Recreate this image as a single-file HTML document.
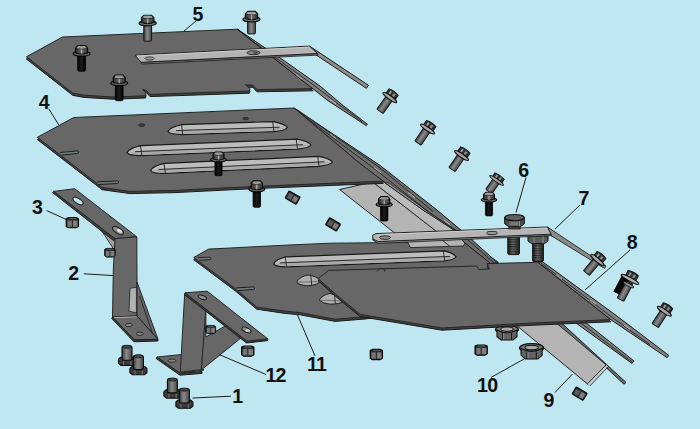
<!DOCTYPE html>
<html>
<head>
<meta charset="utf-8">
<title>Exploded view</title>
<style>
html,body{margin:0;padding:0;background:#bfe7f1;}
body{width:700px;height:429px;overflow:hidden;font-family:"Liberation Sans",sans-serif;}
svg{display:block;}
.lbl{font-family:"Liberation Sans",sans-serif;font-weight:bold;font-size:19.6px;fill:#111;stroke:none;text-anchor:middle;}
.ld{stroke:#1e1e1e;stroke-width:1;fill:none;}
.pl{fill:#676767;stroke:#262626;stroke-width:1;stroke-linejoin:round;}
.th{fill:#404040;stroke:#1a1a1a;stroke-width:1;stroke-linejoin:round;}
.lt{fill:#b4b4b4;stroke:#222;stroke-width:1;stroke-linejoin:round;}
.fl{fill:#8a8a8a;stroke:#222;stroke-width:0.9;stroke-linejoin:round;}
.fd{fill:#6e6e6e;stroke:#161616;stroke-width:1;stroke-linejoin:round;}
.fm{fill:#818181;stroke:#161616;stroke-width:1;stroke-linejoin:round;}
.ln{stroke:#222;stroke-width:0.9;fill:none;}
.wl{stroke:#d8d8d8;stroke-width:0.7;fill:none;}
</style>
</head>
<body>
<svg width="700" height="429" viewBox="0 0 700 429">
<defs>
  <linearGradient id="sh" x1="0" x2="1" y1="0" y2="0">
    <stop offset="0" stop-color="#3c3c3c"/><stop offset="0.45" stop-color="#8a8a8a"/><stop offset="1" stop-color="#444"/>
  </linearGradient>
  <linearGradient id="shk" x1="0" x2="1" y1="0" y2="0">
    <stop offset="0" stop-color="#000"/><stop offset="0.5" stop-color="#1c1c1c"/><stop offset="1" stop-color="#000"/>
  </linearGradient>
  <linearGradient id="hd" x1="0" x2="1" y1="0" y2="0">
    <stop offset="0" stop-color="#2a2a2a"/><stop offset="0.5" stop-color="#6c6c6c"/><stop offset="1" stop-color="#2e2e2e"/>
  </linearGradient>
  <!-- tilted grey flange bolt: origin at flange centre, shaft along +y -->
  <g id="bolt">
    <rect x="-3.8" y="0" width="7.6" height="17" rx="0.8" fill="url(#sh)" stroke="#161616" stroke-width="1"/>
    <path d="M-5.6 -1.5 L-5.6 -6.6 Q0 -8.4 5.6 -6.6 L5.6 -1.5Z" fill="#333" stroke="#0e0e0e" stroke-width="1"/>
    <rect x="-3.4" y="-6" width="1.8" height="3.6" fill="#a0a0a0"/><rect x="0.8" y="-6" width="2.2" height="3.6" fill="#8c8c8c"/>
    <ellipse cx="0" cy="0" rx="8.3" ry="1.9" fill="#a8a8a8" stroke="#0e0e0e" stroke-width="1.1"/>
  </g>
  <!-- upright grey bolt seen from above -->
  <g id="boltu">
    <rect x="-3.9" y="0" width="7.8" height="18" rx="1" fill="url(#sh)" stroke="#161616" stroke-width="1"/>
    <ellipse cx="0" cy="0" rx="8.6" ry="2.6" fill="#7c7c7c" stroke="#0e0e0e" stroke-width="1.2"/>
    <path d="M-6.2 -0.8 L-6.2 -5.6 L-3.8 -8 L3.8 -8 L6.2 -5.6 L6.2 -0.8 Q0 1.6 -6.2 -0.8Z" fill="url(#hd)" stroke="#0e0e0e" stroke-width="1.1"/>
    <path d="M-6.2 -5.6 Q0 -3.4 6.2 -5.6" class="ln"/>
    <path d="M-3.6 -7.4 L3.6 -7.4 L5.2 -5.6 Q0 -4 -5.2 -5.6Z" fill="#a0a0a0"/>
    <path d="M0 -4.2 L0 0.4" stroke="#bbb" stroke-width="0.8"/>
  </g>
  <g id="boltus">
    <rect x="-3.9" y="0" width="7.8" height="14.6" rx="1" fill="url(#sh)" stroke="#161616" stroke-width="1"/>
    <ellipse cx="0" cy="0" rx="8.6" ry="2.6" fill="#7c7c7c" stroke="#0e0e0e" stroke-width="1.2"/>
    <path d="M-6.2 -0.8 L-6.2 -5.6 L-3.8 -8 L3.8 -8 L6.2 -5.6 L6.2 -0.8 Q0 1.6 -6.2 -0.8Z" fill="url(#hd)" stroke="#0e0e0e" stroke-width="1.1"/>
    <path d="M-6.2 -5.6 Q0 -3.4 6.2 -5.6" class="ln"/>
    <path d="M-3.6 -7.4 L3.6 -7.4 L5.2 -5.6 Q0 -4 -5.2 -5.6Z" fill="#a0a0a0"/>
    <path d="M0 -4.2 L0 0.4" stroke="#bbb" stroke-width="0.8"/>
  </g>
  <!-- upright black bolt -->
  <g id="boltk">
    <rect x="-3.9" y="0" width="7.8" height="17.5" rx="1.4" fill="url(#shk)" stroke="#000" stroke-width="0.8"/>
    <ellipse cx="0" cy="0" rx="8.5" ry="2.5" fill="#6a6a6a" stroke="#060606" stroke-width="1.2"/>
    <path d="M-6 -0.8 L-6 -5.8 L-3.6 -8.2 L3.6 -8.2 L6 -5.8 L6 -0.8 Q0 1.4 -6 -0.8Z" fill="url(#hd)" stroke="#060606" stroke-width="1.1"/>
    <path d="M-6 -5.8 Q0 -3.6 6 -5.8" class="ln"/>
    <path d="M-3.4 -7.6 L3.4 -7.6 L5 -5.8 Q0 -4.2 -5 -5.8Z" fill="#9a9a9a"/>
    <path d="M0 -4.4 L0 0.2" stroke="#ccc" stroke-width="0.8"/>
  </g>
  <!-- small nut -->
  <g id="nut">
    <path d="M-6 -4.2 L-3.5 -5.2 L4 -5.2 L6.3 -4 L6.3 3.6 L4 5 L-4 5 L-6 3.6Z" fill="#2c2c2c" stroke="#0a0a0a" stroke-width="1.1"/>
    <rect x="-4.7" y="-2.2" width="4.3" height="6.2" fill="#767676"/>
    <rect x="0.8" y="-2.2" width="4.5" height="6.2" fill="#7e7e7e"/>
    <path d="M-3 -4.2 L3.6 -4.2" stroke="#666" stroke-width="1"/>
  </g>
  <g id="nutt">
    <rect x="-6.4" y="-4.1" width="12.8" height="8.2" rx="0.8" fill="#2a2a2a" stroke="#0a0a0a" stroke-width="1.1"/>
    <rect x="-5" y="-2.6" width="4.6" height="5.6" fill="#5c5c5c"/>
    <rect x="0.7" y="-2.6" width="4.6" height="5.6" fill="#7c7c7c"/>
  </g>
  <!-- item 1 bolt: cylinder up, hex head at bottom -->
  <g id="b1">
    <path d="M-8.5 3.4 L-6.4 1.4 L6.4 1.4 L8.5 3.4 L8.5 7.6 L6 9.6 L-6 9.6 L-8.5 7.6Z" fill="#3a3a3a" stroke="#0a0a0a" stroke-width="1.1"/>
    <path d="M-3.4 4.4 L-3.4 9.4 M3.8 4.4 L3.8 9.4" stroke="#7a7a7a" stroke-width="0.9"/>
    <rect x="-5" y="-10" width="10" height="14.4" rx="2" fill="url(#sh)" stroke="#0a0a0a" stroke-width="1.1"/>
    <ellipse cx="0" cy="-9" rx="4" ry="1.6" fill="#4a4a4a" stroke="#111" stroke-width="0.7"/>
  </g>
  <!-- flange nut (item 10) -->
  <g id="fnut">
    <ellipse cx="0" cy="0" rx="11.5" ry="4.2" fill="#7a7a7a" stroke="#0d0d0d" stroke-width="1.2"/>
    <path d="M-10 0.5 L-10 7 L-6 10.5 L6 10.5 L10 7 L10 0.5 Q0 6 -10 0.5Z" fill="#636363" stroke="#0d0d0d" stroke-width="1.1"/>
    <path d="M-4.5 3.4 L-4.5 10.5 M4.5 3.4 L4.5 10.5" stroke="#1c1c1c" stroke-width="1"/>
    <path d="M-3.4 3.8 L-3.4 10" stroke="#8a8a8a" stroke-width="0.9"/>
    <ellipse cx="0" cy="-0.4" rx="6.4" ry="2.2" fill="#a8a8a8" stroke="#111" stroke-width="1"/>
  </g>
  <linearGradient id="thr" x1="0" x2="1" y1="0" y2="0">
    <stop offset="0" stop-color="#1e1e1e"/><stop offset="0.45" stop-color="#6e6e6e"/><stop offset="1" stop-color="#262626"/>
  </linearGradient>
  <pattern id="thp" width="4" height="2.4" patternUnits="userSpaceOnUse"><rect width="4" height="1.1" fill="#111" opacity="0.65"/></pattern>
  <!-- big bolt shaft (item 6) origin top centre -->
  <g id="boltbig">
    <rect x="-5.8" y="0" width="11.6" height="18" rx="1.5" fill="url(#thr)" stroke="#111" stroke-width="1"/>
    <rect x="-5.8" y="1" width="11.6" height="16" fill="url(#thp)"/>
  </g>
  <g id="boltbig2">
    <rect x="-5.4" y="0" width="10.8" height="18.5" rx="1" fill="url(#thr)" stroke="#111" stroke-width="1"/>
    <rect x="-5.4" y="1" width="10.8" height="17" fill="url(#thp)"/>
    <path d="M-10 -7 L-10 -2 L-6.5 0.6 L6.5 0.6 L10 -2 L10 -7Z" fill="#5a5a5a" stroke="#111" stroke-width="1"/>
    <path d="M-4 -7 L-4 0.4 M5 -7 L5 0.4" stroke="#999" stroke-width="0.8"/>
  </g>
  <!-- hex head (item 6) origin bottom centre of head -->
  <g id="hexhead">
    <rect x="-5.6" y="0" width="11.2" height="3" fill="#4a4a4a" stroke="#111" stroke-width="0.8"/>
    <path d="M-9.8 -8.4 L-9.8 -2.2 L-6 0.6 L6 0.6 L9.8 -2.2 L9.8 -8.4Z" fill="#4c4c4c" stroke="#111" stroke-width="1"/>
    <path d="M-4.4 -5.6 L-4.4 0.4 M5 -5.6 L5 0.4" stroke="#8e8e8e" stroke-width="0.9"/>
    <rect x="-3.6" y="-4.8" width="7.6" height="4.6" fill="#777"/>
    <ellipse cx="0" cy="-8.4" rx="9.8" ry="3.1" fill="#5e5e5e" stroke="#111" stroke-width="1.1"/>
  </g>
  <!-- black tilted bolt -->
  <g id="boltkt">
    <rect x="-9" y="0" width="9.6" height="18.5" fill="#050505"/>
    <rect x="-2.6" y="3" width="7.4" height="19.4" rx="1" fill="url(#sh)" stroke="#0c0c0c" stroke-width="0.9"/>
    <ellipse cx="1.2" cy="5.6" rx="5.8" ry="1.4" fill="#9a9a9a" stroke="#0c0c0c" stroke-width="0.9"/>
    <path d="M-5.8 -1.6 L-5.8 -7 Q0 -8.8 5.8 -7 L5.8 -1.6Z" fill="#343434" stroke="#0c0c0c" stroke-width="1"/>
    <rect x="-3.4" y="-6.2" width="1.9" height="3.8" fill="#9c9c9c"/><rect x="1" y="-6.2" width="2.3" height="3.8" fill="#8a8a8a"/>
    <ellipse cx="0" cy="0" rx="9.9" ry="1.9" fill="#b0b0b0" stroke="#0c0c0c" stroke-width="1.1"/>
  </g>
</defs>

<rect x="0" y="0" width="700" height="429" fill="#bfe7f1"/>
<g id="plate5">
<polygon class="th" points="26.4,59.0 62.5,39.2 237.4,31.4 285.0,69.2 313.3,90.8 257.0,91.8 253.0,87.4 245.5,87.0 250.0,90.8 249.4,93.2 150.0,96.6 146.5,92.6 142.5,91.6 146.0,95.2 145.6,98.0 113.0,99.2 84.0,97.4 72.9,95.4"/>
<polygon class="pl" points="26.4,56.8 62.5,37.0 237.4,29.2 285.0,67.0 313.3,88.6 257.0,89.6 253.0,85.2 245.5,84.8 250.0,88.6 249.4,91.0 150.0,94.4 146.5,90.4 142.5,89.4 146.0,93.0 145.6,95.8 113.0,97.0 84.0,95.2 72.9,93.2" />
  <polygon class="fm" points="237.4,29.2 285,61.3 320,86 343,105.5 367.5,124.3 366.3,125.6 327,100 313.3,89 285,67"/>
  <path class="ln" d="M246 36.4 L285 64.6 L318 88.4 L340 105.4 L362 121.6"/>
  <path class="wl" d="M262 49.6 L268 54 M296 74.6 L302 79 M330 99.4 L336 103.6" stroke-width="1.1"/>
  <g transform="translate(0,1.1)">
  <polygon points="309.5,45 368.4,84.2 366.4,87.2 315.5,53.4" fill="#8e8e8e" stroke="#161616" stroke-width="1"/>
  <polygon points="141,61.2 317.5,52.4 318,54 141.6,63" fill="#777" stroke="#1c1c1c" stroke-width="0.8"/>
  <polygon class="lt" points="135,54 309.5,45 317.5,52.4 141,61.2"/>
  <path class="wl" d="M137 54.8 L309 46"/>
  <ellipse cx="149.5" cy="57.4" rx="4.6" ry="1.6" fill="#999" stroke="#222" stroke-width="0.8"/>
  <ellipse cx="253.5" cy="51.6" rx="6.5" ry="2" fill="#8c8c8c" stroke="#222" stroke-width="0.9"/>
  <ellipse cx="255.5" cy="51.6" rx="2.6" ry="1.2" fill="#555"/>
  </g>
</g>
<g id="plate4">
  <polygon class="lt" points="339.6,189.5 372.8,182 436.6,231.4 460,249.5 415.6,249.5"/>
  <polygon points="372.8,182 383.3,181.6 455.3,230.8 466,241 466,249 460,249.5 436.6,231.4" fill="#bababa" stroke="#222" stroke-width="0.9"/>
  <polygon class="fd" points="294,108 380,165.4 437,210 462,231 470,238.4 466,241 455.3,230.8 423,210 383.3,181.6 360,163.5"/>
  <polygon points="383.3,181.6 423,210 455.3,230.8 460,233 430,213 389.4,183.2" fill="#939393" stroke="#222" stroke-width="0.8"/>
  <path class="ln" d="M300 113 L376 170 L430 213 L460 233.4"/>
  <path class="ln" d="M297 109.6 L378.6 166.8 L433 211.4"/>
  <path class="wl" d="M374 167.6 L381 172.8 M408 192.4 L415 197.6 M330 134 L336 138.4 M444 220 L450 224.4" stroke-width="1.3"/>
<polygon class="th" points="37.3,139.5 73.8,119.7 294.0,110.2 360.0,165.7 383.3,183.4 350.0,184.7 255.0,188.6 175.0,192.6 130.0,193.6 102.0,189.7 95.3,184.4"/>
<polygon class="pl" points="37.3,137.3 73.8,117.5 294.0,108.0 360.0,163.5 383.3,181.2 350.0,182.5 255.0,186.4 175.0,190.4 130.0,191.4 102.0,187.5 95.3,182.2" />
<path d="M60.2 152.5 L77.5 150.9 Q80.5 152.2 77.5 153.5 L61.7 155.1" fill="#70797c" stroke="#161616" stroke-width="0.9"/>
<path d="M97.0 181.9 L117.5 180.9 Q120.5 182.2 117.5 183.5 L98.5 184.5" fill="#70797c" stroke="#161616" stroke-width="0.9"/>
  <ellipse cx="141.9" cy="125.1" rx="3.2" ry="1.4" fill="#3c3c3c" stroke="#222" stroke-width="0.6"/>
  <ellipse cx="245.7" cy="118.6" rx="3" ry="1.3" fill="#3c3c3c" stroke="#222" stroke-width="0.6"/>
<path d="M168.0 131.5 Q170.0 127.0 182.0 124.6 L273.5 121.6 Q284.5 123.7 287.5 127.5 Q285.5 130.7 273.5 131.6 L182.0 134.6 Q170.0 134.5 168.0 131.5Z" fill="#bcbcbc" stroke="#1a1a1a" stroke-width="1.2" stroke-linejoin="round"/>
<path d="M169.5 131.8 L182.0 129.8 L273.5 126.8 L286.0 127.7 L273.5 130.9 L182.0 133.9Z" fill="#a9a9a9"/>
<path d="M176.0 130.6 L279.5 127.2" stroke="#2e2e2e" stroke-width="1" fill="none"/>
<path d="M181.5 124.6 L182.8 134.6 M272.7 121.6 L274.0 131.6" class="ln" stroke-width="1.1"/>

<path d="M127.0 152.6 Q129.0 148.1 141.0 145.6 L297.0 139.2 Q308.0 141.2 311.0 145.0 Q309.0 148.2 297.0 149.2 L141.0 155.6 Q129.0 155.6 127.0 152.6Z" fill="#bcbcbc" stroke="#1a1a1a" stroke-width="1.2" stroke-linejoin="round"/>
<path d="M128.5 152.9 L141.0 150.8 L297.0 144.4 L309.5 145.2 L297.0 148.5 L141.0 154.9Z" fill="#a9a9a9"/>
<path d="M135.0 151.7 L303.0 144.7" stroke="#2e2e2e" stroke-width="1" fill="none"/>
<path d="M140.5 145.6 L141.8 155.6 M296.2 139.2 L297.5 149.2" class="ln" stroke-width="1.1"/>

<path d="M150.6 170.5 Q152.6 166.0 164.6 163.4 L318.5 156.3 Q329.5 158.2 332.5 162.0 Q330.5 165.2 318.5 166.3 L164.6 173.4 Q152.6 173.5 150.6 170.5Z" fill="#bcbcbc" stroke="#1a1a1a" stroke-width="1.2" stroke-linejoin="round"/>
<path d="M152.1 170.8 L164.6 168.6 L318.5 161.5 L331.0 162.2 L318.5 165.6 L164.6 172.7Z" fill="#a9a9a9"/>
<path d="M158.6 169.5 L324.5 161.8" stroke="#2e2e2e" stroke-width="1" fill="none"/>
<path d="M164.1 163.4 L165.4 173.4 M317.7 156.3 L319.0 166.3" class="ln" stroke-width="1.1"/>

</g>
<g id="plate11">
<polygon class="th" points="193.7,259.7 208.6,251.3 285.0,247.4 330.0,245.4 400.0,244.7 468.5,244.5 498.0,264.2 498.0,302.2 365.0,319.0 335.0,321.4 300.0,314.8 285.0,313.4 256.7,309.2 235.7,291.2"/>
<polygon class="pl" points="193.7,257.5 208.6,249.1 285.0,245.2 330.0,243.2 400.0,242.5 468.5,242.3 498.0,262.0 498.0,300.0 365.0,316.8 335.0,319.2 300.0,312.6 285.0,311.2 256.7,307.0 235.7,289.0" />
<path d="M198.0 257.7 L209.7 257.1 Q212.7 258.4 209.7 259.7 L199.5 260.3" fill="#70797c" stroke="#161616" stroke-width="0.9"/>
<path d="M236.2 287.9 L253.5 286.9 Q256.5 288.2 253.5 289.5 L237.7 290.5" fill="#70797c" stroke="#161616" stroke-width="0.9"/>
<path d="M273.8 263.8 Q275.8 259.3 285.8 256.9 L444.2 250.9 Q453.2 253.0 456.2 256.8 Q454.2 260.0 444.2 260.9 L285.8 266.9 Q275.8 266.8 273.8 263.8Z" fill="#bcbcbc" stroke="#1a1a1a" stroke-width="1.2" stroke-linejoin="round"/>
<path d="M275.2 264.1 L285.8 262.1 L444.2 256.1 L454.7 257.0 L444.2 260.2 L285.8 266.2Z" fill="#a9a9a9"/>
<path d="M279.8 262.9 L450.2 256.4" stroke="#2e2e2e" stroke-width="1" fill="none"/>
<path d="M285.2 256.9 L286.6 266.9 M443.4 250.9 L444.7 260.9" class="ln" stroke-width="1.1"/>

  <path d="M296.4 282.1 Q300 276.4 308 275 Q316 275.6 320.5 281 Q318 285 308 285.8 Q300 285.4 296.4 282.1Z" fill="#b0b0b0" stroke="#1c1c1c" stroke-width="1"/>
  <path d="M296.4 282.1 L311.6 281.8 L320.5 281" stroke="#555" stroke-width="0.7" fill="none"/>
  <path d="M310.8 275.2 L311.8 285.8" class="ln"/>
  <path d="M319 300.1 Q323 294.4 330 293.5 Q338 294.4 344.6 301.3 Q340 304 330 304.2 Q323 303.6 319 300.1Z" fill="#b0b0b0" stroke="#1c1c1c" stroke-width="1"/>
  <path d="M319 300.1 L335 300.6 L344.6 301.3" stroke="#555" stroke-width="0.7" fill="none"/>
  <path d="M334.4 293.8 L335.4 304.2" class="ln"/>
  <polygon points="404,236 466,236 466,241.5 463.4,246 410.6,247.6" fill="#b4b4b4" stroke="#222" stroke-width="0.9"/>
  <path class="ln" d="M437 236 L450 246.4"/>
  <polygon class="fd" points="455.3,230.8 462,231 470,238 497.6,262.9 490.6,263.4 463.8,242"/>
  <path class="ln" d="M460 233 L494 263"/>
</g>
<g id="bar9">
  <use href="#fnut" transform="translate(507,329.5)"/>
  <polygon class="fd" points="548,316 553,315.2 626,382.4 624,384.2 606.6,368"/>
  <polygon class="lt" points="510,320 548,316 607.2,365.7 588.6,384.9"/>
  <path d="M588.6 384.9 L607.2 365.7" stroke="#cfcfcf" stroke-width="1.6"/>
  <path d="M587.6 383.6 L606.4 364.6" class="ln"/>
  <path d="M589.8 386 L607.6 367.4" class="ln"/>
  <use href="#fnut" transform="translate(531.6,348) scale(1.05)"/>
</g>
<g id="plate8">
  <polygon class="fm" points="574,321.6 582.6,320.2 634,361 632,363.4"/>
  <path class="ln" d="M578.4 321.2 L632.6 362.4"/>
<polygon class="th" points="328.7,272.6 476.6,268.2 479.0,271.8 489.5,271.2 487.0,265.8 538.0,264.5 611.0,321.8 525.0,325.6 442.0,330.2 360.2,316.6 335.7,296.5 318.2,280.8"/>
<polygon class="pl" points="328.7,270.4 476.6,266.0 479.0,269.6 489.5,269.0 487.0,263.6 538.0,262.3 611.0,319.6 525.0,323.4 442.0,328.0 360.2,314.4 335.7,294.3 318.2,278.6" />
  <polygon class="fm" points="538,262.3 542.3,261.6 615,314.6 668.8,355.4 667,357.6 611,319.8"/>
  <path class="ln" d="M541 263 L613 318 L650 344.6"/>
  <path class="wl" d="M556 274.6 L562 279 M590 300 L596 304.4 M624 325 L630 329.4" stroke-width="1.1"/>
  <path d="M377 271.4 l3 -3 l4 0.4 l1 3" class="ln"/>
</g>
<!-- ===== STRAP 7 ===== -->
<g id="strap7">
  <use href="#boltbig" transform="translate(513.6,236.6)"/>
  <use href="#boltbig2" transform="translate(538,243)"/>
  <polygon class="fl" points="547.5,227 606,266 604.6,268.4 549,234.4"/>
  <polygon points="373,238.4 378,241.2 551,233.8 551.6,235.6 378.4,243.4 372.6,240" fill="#8a8a8a" stroke="#1c1c1c" stroke-width="0.8"/>
  <polygon class="lt" points="372.5,235.4 376,233.6 547.5,227 551,234.2 378,241.6 373,239"/>
  <path class="wl" d="M377 234.6 L547 228"/>
  <ellipse cx="385" cy="237.6" rx="5.5" ry="1.8" fill="#8c8c8c" stroke="#222" stroke-width="0.9"/>
  <ellipse cx="492" cy="233" rx="5.5" ry="1.7" fill="#999" stroke="#222" stroke-width="0.9"/>
  <use href="#hexhead" transform="translate(514.5,226)"/>
</g>

<!-- ===== BRACKET 2 ===== -->
<g id="bracket2">
  <!-- small gusset under arm -->
  <polygon points="101.5,230.5 115,238.6 115.6,252" fill="#a2a2a2" stroke="#222" stroke-width="0.9"/>
  <!-- arm -->
  <polygon class="th" points="52.6,192.6 113.6,240.6 115,238.6 53.7,191.4"/>
  <polygon class="pl" points="53.7,191.4 74.7,188.7 136.8,236.8 115,238.6"/>
  <ellipse cx="78" cy="201" rx="5.8" ry="2.5" transform="rotate(33 78 201)" fill="#bfe7f1" stroke="#1a1a1a" stroke-width="1.1"/>
  <ellipse cx="118" cy="230.6" rx="6.2" ry="2.8" transform="rotate(33 118 230.6)" fill="#8a8a8a" stroke="#1a1a1a" stroke-width="1"/>
  <ellipse cx="119.5" cy="230.8" rx="2.8" ry="1.6" transform="rotate(33 119.5 230.8)" fill="#e2e2e2"/>
  <!-- vertical face -->
  <polygon class="pl" points="115,238.6 136.8,236.8 137,282 137,316 112.5,317 113.3,270" fill="#646464"/>
  <!-- gusset -->
  <polygon class="pl" points="137,282 157.9,339 137,316"/>
  <path class="ln" d="M139.6 296 L153 335"/>
  <polygon points="130,288.3 136.4,287.4 136.4,313 129,311" fill="#b2b2b2" stroke="#222" stroke-width="0.8"/>
  <!-- foot -->
  <polygon class="pl" points="112.5,317 137,316 157.9,339.4 134.3,340"/>
  <polygon class="th" points="112.5,317 134.3,340 157.9,339.4 157.9,341 134,341.8 111.8,318.6"/>
  <path class="wl" d="M114 317.6 L136.6 316.8"/>
  <ellipse cx="129" cy="325" rx="3.6" ry="1.6" fill="#8a8a8a" stroke="#1a1a1a" stroke-width="0.8"/>
  <ellipse cx="139.8" cy="333.8" rx="3.6" ry="1.6" fill="#8a8a8a" stroke="#1a1a1a" stroke-width="0.8"/>
  <use href="#nut" transform="translate(109.8,252.8) scale(0.85)"/>
</g>

<!-- ===== BRACKET 12 ===== -->
<g id="bracket12">
  <!-- foot -->
  <polygon class="th" points="157,357 180.3,373.2 202,371.6 202,373.4 180,375.2 156.2,358.6"/>
  <polygon class="pl" points="157,357 182,354.5 204,370 180.3,373.2"/>
  <ellipse cx="172" cy="360.6" rx="3.8" ry="1.6" fill="#8a8a8a" stroke="#1a1a1a" stroke-width="0.8"/>
  <!-- brace plate with opening -->
  <path class="pl" fill-rule="evenodd" d="M205.5 306 L241 337 L239.7 339 L201.3 370 Z M205.9 310.8 L225.2 326 L205.9 337 Z" fill="#6a6a6a"/>
  <use href="#nut" transform="translate(210.6,329.6) scale(0.8)"/>
  <!-- vertical face -->
  <polygon class="pl" points="184.6,295 206,306.8 201.3,369.8 180.3,372" fill="#626262"/>
  <!-- top plate -->
  <polygon class="th" points="184.4,294.6 246.6,343 267.7,340.6 267.7,338.8 247,341 185,292.8"/>
  <polygon class="pl" points="185,292.8 207.1,291.2 267.7,338.8 247,341.2"/>
  <ellipse cx="202.4" cy="297.4" rx="4.6" ry="2" transform="rotate(20 202.4 297.4)" fill="#8a8a8a" stroke="#1a1a1a" stroke-width="0.9"/>
  <ellipse cx="246.5" cy="330" rx="5" ry="2.2" transform="rotate(25 246.5 330)" fill="#8a8a8a" stroke="#1a1a1a" stroke-width="0.9"/>
  <ellipse cx="247.6" cy="330.4" rx="2.2" ry="1.2" fill="#ddd"/>
</g>

<!-- ===== BOLTS ===== -->
<g id="bolts">
  <use href="#boltu" transform="translate(147.7,23.2)"/>
  <use href="#boltus" transform="translate(251.5,19.3)"/>
  <use href="#boltk" transform="translate(81.6,53.7)"/>
  <use href="#boltk" transform="translate(119.2,83.2)"/>
  <use href="#boltk" transform="translate(218.5,159.6) scale(0.92)"/>
  <use href="#boltk" transform="translate(256.8,189.3) scale(0.95,1.03)"/>
  <use href="#boltk" transform="translate(384.2,204.4) scale(0.95)"/>
  <use href="#bolt" transform="translate(496.6,180.4) rotate(35) scale(1,0.8)"/>
  <use href="#boltk" transform="translate(489,199.8) scale(0.92)"/>
  <use href="#bolt" transform="translate(389.8,97.5) rotate(35.4)"/>
  <use href="#bolt" transform="translate(427.5,129) rotate(34)"/>
  <use href="#bolt" transform="translate(461.6,155.5) rotate(34.5)"/>
  <use href="#bolt" transform="translate(597.3,260) rotate(40)"/>
  <use href="#bolt" transform="translate(664.4,311.3) rotate(33)"/>
  <use href="#boltkt" transform="translate(630,279.3) rotate(28)"/>
  <use href="#b1" transform="translate(127,355.8)"/>
  <use href="#b1" transform="translate(138.4,365.2)"/>
  <use href="#b1" transform="translate(172.4,388.5)"/>
  <use href="#b1" transform="translate(184.4,398.6)"/>
</g>

<!-- ===== NUTS ===== -->
<g id="nuts">
  <use href="#nut" transform="translate(72.2,222.8)"/>
  <use href="#nutt" transform="translate(292.6,197.6) rotate(30)"/>
  <use href="#nutt" transform="translate(333,224.4) rotate(31)"/>
  <use href="#nut" transform="translate(247.6,351.2)"/>
  <use href="#nut" transform="translate(376.2,354.6)"/>
  <use href="#nut" transform="translate(481,350.2)"/>
  <use href="#nutt" transform="translate(579.6,393.7) rotate(31)"/>
</g>

<!-- ===== LEADERS + LABELS ===== -->
<g id="labels">
  <path class="ld" d="M192.5 398 L231 396.2"/>
  <path class="ld" d="M83.8 273.8 L113.6 275.6"/>
  <path class="ld" d="M46.7 210.6 L66 219.4"/>
  <path class="ld" d="M48.8 108.8 L58.8 125"/>
  <path class="ld" d="M196 21 L184 31"/>
  <path class="ld" d="M526 177.5 L516 212.5"/>
  <path class="ld" d="M580 205 L555 229"/>
  <path class="ld" d="M630 250 L585 290"/>
  <path class="ld" d="M555 392.5 L572.5 374"/>
  <path class="ld" d="M491 377.5 L524 359"/>
  <path class="ld" d="M297.5 315 L315 356"/>
  <path class="ld" d="M219 354.5 L266 374.5"/>
  <text class="lbl" x="237.8" y="403.3">1</text>
  <text class="lbl" x="73.6" y="280.4">2</text>
  <text class="lbl" x="37.5" y="214.0">3</text>
  <text class="lbl" x="44.2" y="108.9">4</text>
  <text class="lbl" x="198.0" y="20.5">5</text>
  <text class="lbl" x="523.6" y="176.7">6</text>
  <text class="lbl" x="583.9" y="204.6">7</text>
  <text class="lbl" x="632.2" y="248.9">8</text>
  <text class="lbl" x="549.0" y="406.7">9</text>
  <text class="lbl" x="487.2" y="392.2" letter-spacing="-0.7">10</text>
  <text class="lbl" x="316.6" y="371.3" letter-spacing="-0.7">11</text>
  <text class="lbl" x="275.6" y="382.4" letter-spacing="-0.7">12</text>
</g>

</svg>
</body>
</html>
